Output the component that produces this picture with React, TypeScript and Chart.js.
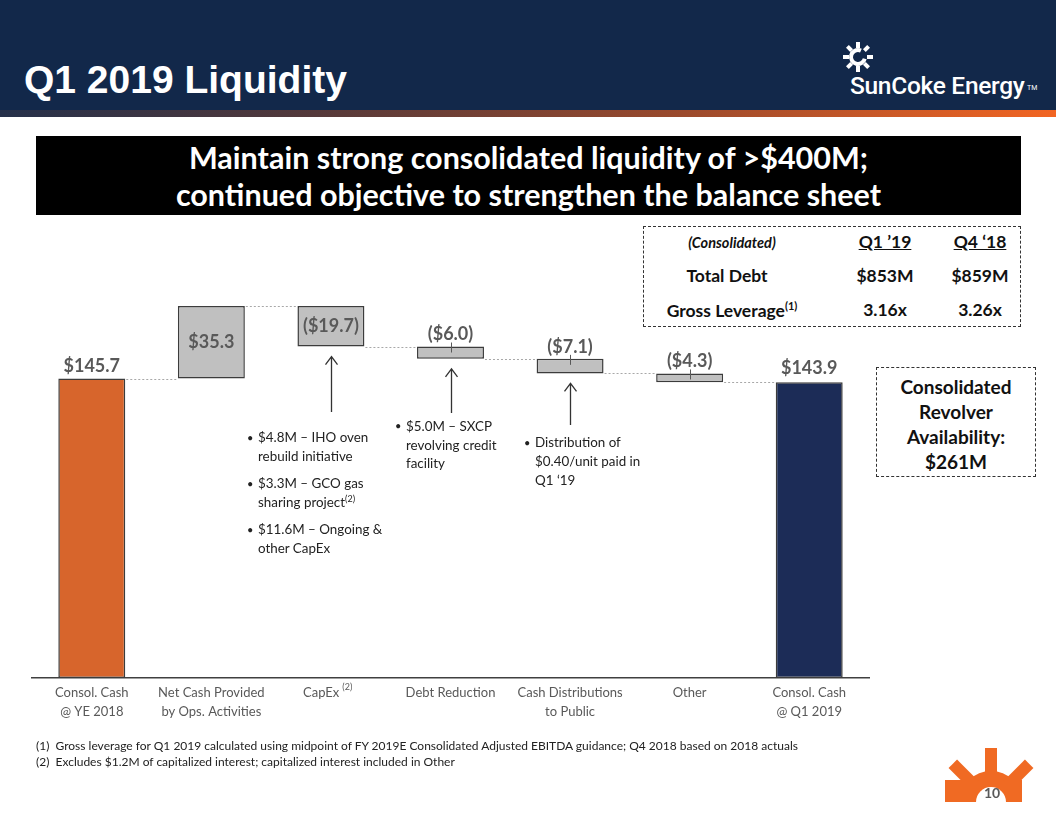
import React, { useEffect, useRef } from "react";
import { Chart, registerables } from "chart.js";

Chart.register(...registerables);

// ---------- data ----------
const categories: string[][] = [
  ["Consol. Cash", "@ YE 2018"],
  ["Net Cash Provided", "by Ops. Activities"],
  ["CapEx\u2002\u2002\u2002"],
  ["Debt Reduction"],
  ["Cash Distributions", "to Public"],
  ["Other"],
  ["Consol. Cash", "@ Q1 2019"],
];
const changes: number[] = [145.7, 35.3, -19.7, -6.0, -7.1, -4.3, 143.9];
const barKinds: string[] = ["total", "delta", "delta", "delta", "delta", "delta", "total"];
const valueLabels: string[] = ["$145.7", "$35.3", "($19.7)", "($6.0)", "($7.1)", "($4.3)", "$143.9"];
const barColors: string[] = ["#D7652C", "#C0C0C0", "#C0C0C0", "#C0C0C0", "#C0C0C0", "#C0C0C0", "#1C2C57"];
const arrowBars: number[] = [2, 3, 4];
const arrowTails: number[] = [412, 413, 425];

function buildFloating() {
  const ranges: [number, number][] = [];
  const levels: number[] = [];
  let running = 0;
  changes.forEach((v, i) => {
    if (barKinds[i] === "total") {
      ranges.push([0, v]);
      running = v;
    } else {
      ranges.push([running, running + v]);
      running = running + v;
    }
    levels.push(running);
  });
  return { ranges, levels };
}

const FONT = "Lato, 'Noto Sans', sans-serif";

const waterfallPlugin = {
  id: "waterfallExtras",
  afterDatasetsDraw(chart: any) {
    const { ctx } = chart;
    const meta = chart.getDatasetMeta(0);
    const yS = chart.scales.y;
    const { levels } = buildFloating();
    ctx.save();
    // dotted connectors
    ctx.strokeStyle = "#A8A8A8";
    ctx.lineWidth = 1;
    ctx.setLineDash([2, 2]);
    for (let i = 0; i < meta.data.length - 1; i++) {
      const a = meta.data[i].getProps(["x", "width"], true);
      const b = meta.data[i + 1].getProps(["x", "width"], true);
      const yy = Math.round(yS.getPixelForValue(levels[i])) + 0.5;
      ctx.beginPath();
      ctx.moveTo(a.x + a.width / 2 + 1, yy);
      ctx.lineTo(b.x - b.width / 2 - 1, yy);
      ctx.stroke();
    }
    ctx.setLineDash([]);
    // small marks and value labels
    ctx.font = `bold 18px ${FONT}`;
    ctx.fillStyle = "#595959";
    ctx.textAlign = "center";
    ctx.textBaseline = "middle";
    meta.data.forEach((bar: any, i: number) => {
      const p = bar.getProps(["x", "y", "base", "width"], true);
      const top = Math.min(p.y, p.base);
      const bottom = Math.max(p.y, p.base);
      const v = changes[i];
      if (barKinds[i] === "delta" && Math.abs(v) < 10) {
        ctx.strokeStyle = "#595959";
        ctx.lineWidth = 1;
        ctx.beginPath();
        ctx.moveTo(Math.round(p.x) + 0.5, top - 4);
        ctx.lineTo(Math.round(p.x) + 0.5, top + 6);
        ctx.stroke();
      }
      if (barKinds[i] === "delta" && Math.abs(v) >= 10) {
        ctx.fillText(valueLabels[i], p.x, (top + bottom) / 2);
      } else {
        ctx.fillText(valueLabels[i], p.x, top - (barKinds[i] === "total" && i > 0 ? 14 : 12));
      }
    });
    // arrows
    ctx.strokeStyle = "#333333";
    ctx.lineWidth = 1.3;
    arrowBars.forEach((bi, k) => {
      const p = meta.data[bi].getProps(["x", "y", "base"], true);
      const bottom = Math.max(p.y, p.base);
      const tip = bottom + 10;
      const x = Math.round(p.x) + 0.5;
      ctx.beginPath();
      ctx.moveTo(x, arrowTails[k]);
      ctx.lineTo(x, tip);
      ctx.moveTo(x - 6, tip + 8);
      ctx.lineTo(x, tip);
      ctx.lineTo(x + 6, tip + 8);
      ctx.stroke();
    });
    ctx.restore();
  },
  afterDraw(chart: any) {
    const { ctx } = chart;
    const xS = chart.scales.x;
    ctx.save();
    ctx.font = `13px ${FONT}`;
    const label = categories[2][0];
    const wAll = ctx.measureText(label).width;
    const wCap = ctx.measureText("CapEx").width;
    const cx = xS.getPixelForValue(2);
    const sx = cx - wAll / 2 + wCap + 3;
    ctx.font = `9px ${FONT}`;
    ctx.fillStyle = "#595959";
    ctx.textAlign = "left";
    ctx.textBaseline = "top";
    ctx.fillText("(2)", sx, 683);
    ctx.restore();
  },
};

function WaterfallChart() {
  const ref = useRef<HTMLCanvasElement | null>(null);
  useEffect(() => {
    if (!ref.current) return;
    const { ranges } = buildFloating();
    const chart = new Chart(ref.current, {
      type: "bar",
      data: {
        labels: categories,
        datasets: [
          {
            data: ranges as any,
            backgroundColor: barColors,
            borderColor: "#3C3C3C",
            borderWidth: 1.5,
            borderSkipped: false,
            barPercentage: 0.56,
            categoryPercentage: 1,
          },
        ],
      },
      options: {
        responsive: false,
        animation: false,
        devicePixelRatio: 1,
        layout: { padding: { left: 32, right: 187, top: 267, bottom: 0 } },
        plugins: { legend: { display: false }, tooltip: { enabled: false } },
        scales: {
          x: {
            grid: { display: false, drawTicks: false },
            border: { display: true, color: "#404040", width: 1.5 },
            ticks: {
              color: "#595959",
              font: { family: FONT, size: 13, lineHeight: 1.46 },
              padding: 5,
              maxRotation: 0,
              autoSkip: false,
            },
            afterFit: (s: any) => {
              s.height = 138;
            },
          },
          y: { display: false, min: 0, max: 200 },
        },
      },
      plugins: [waterfallPlugin],
    });
    return () => chart.destroy();
  }, []);
  return (
    <canvas
      ref={ref}
      width={1056}
      height={816}
      style={{ position: "absolute", left: 0, top: 0, width: 1056, height: 816 }}
    />
  );
}

const abs = (l: number, t: number, extra: React.CSSProperties = {}): React.CSSProperties => ({
  position: "absolute",
  left: l,
  top: t,
  ...extra,
});

function Bullets({ left, top, paras, lh }: { left: number; top: number; paras: React.ReactNode[][]; lh: number }) {
  return (
    <div style={abs(left, top, { fontFamily: FONT, fontSize: 13.4, color: "#222", lineHeight: `${lh}px`, whiteSpace: "nowrap" })}>
      {paras.map((lines, i) => (
        <div key={i} style={{ position: "relative", paddingLeft: 11, marginBottom: 8 }}>
          <span style={{ position: "absolute", left: 0, top: 0, fontSize: 11 }}>•</span>
          {lines.map((ln, j) => (
            <div key={j}>{ln}</div>
          ))}
        </div>
      ))}
    </div>
  );
}

function Badge() {
  const cx = 991;
  const cy = 802;
  const rays = [135, 90, 45];
  return (
    <svg width={1056} height={816} style={abs(0, 0)}>
      <defs>
        <clipPath id="half">
          <rect x={930} y={730} width={126} height={cy - 730} />
        </clipPath>
      </defs>
      <g clipPath="url(#half)" fill="#F06A23">
        <circle cx={cx} cy={cy} r={31} />
        {rays.map((a) => (
          <rect
            key={a}
            x={cx - 6}
            y={cy - 54}
            width={12}
            height={30}
            transform={`rotate(${90 - a} ${cx} ${cy})`}
          />
        ))}
        <rect x={945} y={780} width={32} height={24} />
        <rect x={1005} y={780} width={17} height={24} />
        <circle cx={cx} cy={cy} r={15} fill="#ffffff" />
      </g>
      <text x={cx + 1} y={798} textAnchor="middle" fontFamily={FONT} fontWeight="bold" fontSize={14} fill="#595959">
        10
      </text>
    </svg>
  );
}

function LogoIcon() {
  const cx = 858;
  const cy = 57;
  const angles = [0, 45, 90, 135, 180, 225, 270, 315];
  return (
    <svg width={1056} height={120} style={abs(0, 0)}>
      <circle cx={cx} cy={cy} r={7} fill="none" stroke="#fff" strokeWidth={4} strokeDasharray="34 10" transform={`rotate(15 ${cx} ${cy})`} />
      {angles.map((a) => (
        <rect key={a} x={cx - 2} y={cy - 15} width={4} height={6} fill="#fff" transform={`rotate(${a} ${cx} ${cy})`} />
      ))}
    </svg>
  );
}

export default function App() {
  useEffect(() => {
    document.body.style.margin = "0";
  }, []);
  const bold: React.CSSProperties = { fontFamily: FONT, fontWeight: 700, color: "#111" };
  return (
    <div style={{ position: "absolute", left: 0, top: 0, width: 1056, height: 816, overflow: "hidden", background: "#fff" }}>
      {/* header */}
      <div style={abs(0, 0, { width: 1056, height: 110, background: "#12284A" })} />
      <div
        style={abs(0, 110, {
          width: 1056,
          height: 7,
          background: "linear-gradient(to right, #25304a 0%, #55393a 30%, #9c4a2c 65%, #F26522 100%)",
        })}
      />
      <div style={abs(24, 57, { fontFamily: "'Liberation Sans', Arial, sans-serif", fontWeight: 700, fontSize: 39, color: "#fff", lineHeight: "46px" })}>
        Q1 2019 Liquidity
      </div>
      <LogoIcon />
      <div style={abs(850, 72, { fontFamily: "Roboto, sans-serif", fontWeight: 500, fontSize: 24.5, color: "#fff", lineHeight: "28px", letterSpacing: -0.3 })}>
        SunCoke Energy
      </div>
      <div style={abs(1027, 84, { fontFamily: "Roboto, sans-serif", fontSize: 7, color: "#fff" })}>TM</div>

      {/* black banner */}
      <div
        style={abs(36, 136, {
          width: 985,
          height: 79,
          background: "#000",
          color: "#fff",
          fontFamily: FONT,
          fontWeight: 700,
          fontSize: 30.5,
          lineHeight: "37px",
          textAlign: "center",
          paddingTop: 3,
          boxSizing: "border-box",
        })}
      >
        <div>Maintain strong consolidated liquidity of &gt;$400M;</div>
        <div>continued objective to strengthen the balance sheet</div>
      </div>

      {/* table */}
      <div style={abs(643, 226, { width: 378, height: 101, border: "1.5px dashed #333", boxSizing: "border-box" })} />
      <div style={abs(662, 234, { ...bold, fontSize: 14.5, fontStyle: "italic", width: 140, textAlign: "center" })}>(Consolidated)</div>
      <div style={abs(845, 231, { ...bold, fontSize: 17.5, width: 80, textAlign: "center", textDecoration: "underline" })}>Q1 ’19</div>
      <div style={abs(940, 231, { ...bold, fontSize: 17.5, width: 80, textAlign: "center", textDecoration: "underline" })}>Q4 ‘18</div>
      <div style={abs(657, 265, { ...bold, fontSize: 17.5, width: 140, textAlign: "center" })}>Total Debt</div>
      <div style={abs(845, 265, { ...bold, fontSize: 17.5, width: 80, textAlign: "center" })}>$853M</div>
      <div style={abs(940, 265, { ...bold, fontSize: 17.5, width: 80, textAlign: "center" })}>$859M</div>
      <div style={abs(647, 299, { ...bold, fontSize: 17.5, width: 170, textAlign: "center" })}>
        Gross Leverage<sup style={{ fontSize: 11, verticalAlign: 7 }}>(1)</sup>
      </div>
      <div style={abs(845, 299, { ...bold, fontSize: 17.5, width: 80, textAlign: "center" })}>3.16x</div>
      <div style={abs(940, 299, { ...bold, fontSize: 17.5, width: 80, textAlign: "center" })}>3.26x</div>

      {/* revolver box */}
      <div
        style={abs(876, 367, {
          width: 160,
          height: 110,
          border: "1.5px dashed #333",
          boxSizing: "border-box",
          ...bold,
          fontSize: 19,
          lineHeight: "25px",
          textAlign: "center",
          paddingTop: 6,
        })}
      >
        Consolidated
        <br />
        Revolver
        <br />
        Availability:
        <br />
        $261M
      </div>

      <WaterfallChart />

      {/* annotations */}
      <Bullets
        left={247}
        top={428}
        lh={19}
        paras={[
          ["$4.8M – IHO oven", "rebuild initiative"],
          ["$3.3M – GCO gas", <span>sharing project<sup style={{ fontSize: 9, verticalAlign: 5, lineHeight: 0 }}>(2)</sup></span>],
          ["$11.6M – Ongoing &", "other CapEx"],
        ]}
      />
      <Bullets left={395} top={417} lh={18.5} paras={[["$5.0M – SXCP", "revolving credit", "facility"]]} />
      <Bullets left={524} top={433} lh={19} paras={[["Distribution of", "$0.40/unit paid in", "Q1 ‘19"]]} />

      {/* footnotes */}
      <div style={abs(36, 738, { fontFamily: FONT, fontSize: 12, color: "#222", lineHeight: "16px", whiteSpace: "nowrap" })}>
        <div>(1)&nbsp; Gross leverage for Q1 2019 calculated using midpoint of FY 2019E Consolidated Adjusted EBITDA guidance; Q4 2018 based on 2018 actuals</div>
        <div>(2)&nbsp; Excludes $1.2M of capitalized interest; capitalized interest included in Other</div>
      </div>

      <Badge />
    </div>
  );
}
